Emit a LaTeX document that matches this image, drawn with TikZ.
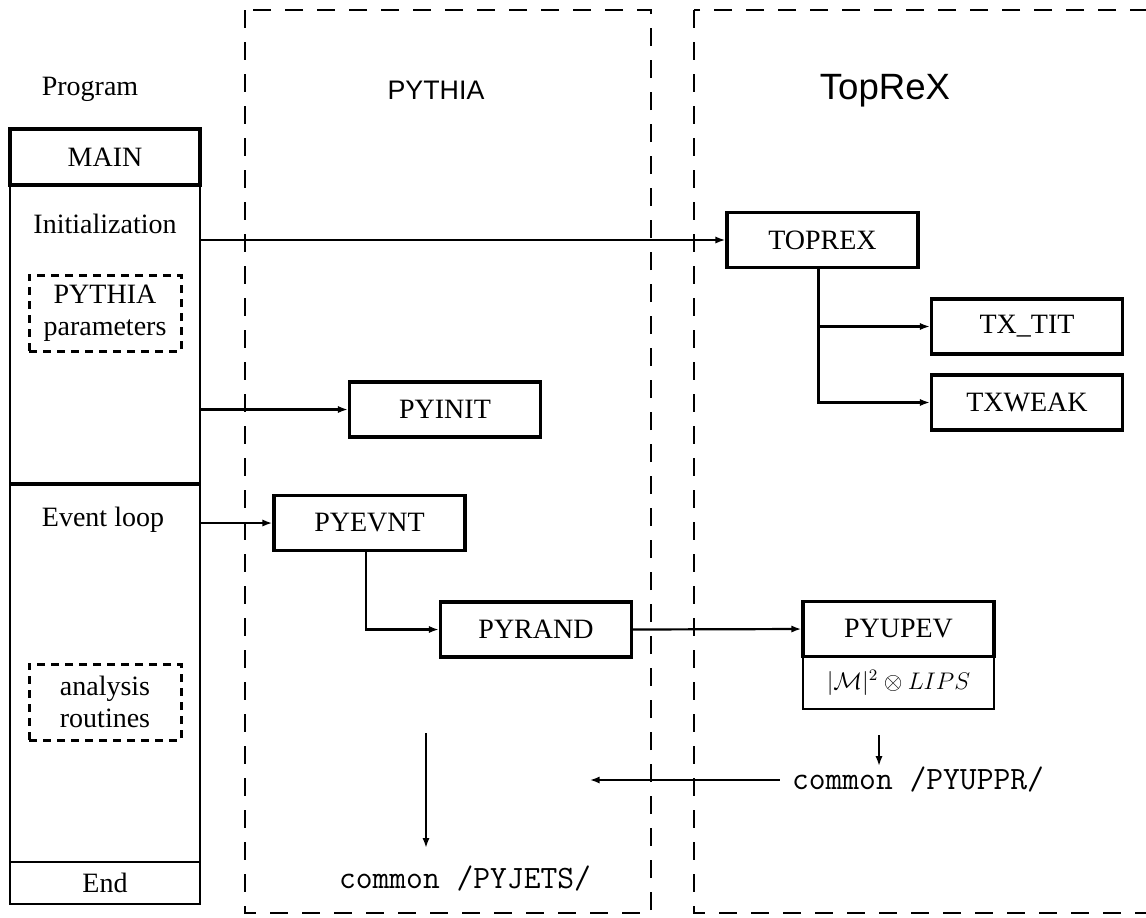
\documentclass[tikz,border=0pt]{standalone}
\usepackage{fontspec}
\setmainfont{Liberation Serif}
\setsansfont{Liberation Sans}
\usetikzlibrary{arrows.meta}

\begin{document}
\begin{tikzpicture}[x=0.5pt, y=-0.5pt,
        font=\fontsize{14}{16}\selectfont,
        arr/.style={-{Latex[length=5pt,width=3.6pt]}, line width=1.1pt},
        routine/.style={draw, line width=1.6pt, minimum width=95.5pt, minimum height=27.5pt, inner sep=0pt},
        frame/.style={draw, line width=1.1pt, inner sep=0pt},
        param/.style={draw, line width=1.5pt, dash pattern=on 4pt off 3pt, minimum width=76pt, minimum height=38pt, align=center, inner sep=0pt},
        panel/.style={line width=1.1pt, dash pattern=on 9pt off 7pt},
        common/.style={font=\ttfamily\fontsize{16.3}{18}\selectfont, inner sep=0pt}]
        \useasboundingbox (0,0) rectangle (1146,917);

        \draw[panel] (245,10) rectangle (651,913);
        \draw[panel] (694,10) rectangle (1170,913);

        \node[font=\sffamily\fontsize{13.4}{16}\selectfont] (pythialab) at (436,90) {PYTHIA};
        \node[font=\sffamily\fontsize{18.3}{20}\selectfont] (toprexlab) at (885,91) {TopReX};

        \node (prog) at (90,89) {Program};
        \node[frame, minimum width=95pt, minimum height=359.5pt] (prg) at (105,544.5) {};
        \node[frame, line width=1.6pt, minimum width=95pt, minimum height=28pt] (main) at (105,157) {MAIN};
        \node[frame, minimum width=95pt, minimum height=21pt] (end) at (105,883) {End};
        \draw[line width=1.6pt] (10,484) -- (200,484);

        \node (init) at (105,224) {Initialization};
        \node[param] (ppar) at (105,313) {PYTHIA\\parameters};
        \node (evloop) at (103,520) {Event loop};
        \node[param] (ana) at (105,702) {analysis\\routines};

        \node[routine] (toprex) at (822.5,240) {TOPREX};
        \node[routine] (txtit) at (1027,326.5) {TX\_TIT};
        \node[routine] (txweak) at (1027,402.5) {TXWEAK};
        \node[routine] (pyinit) at (445,409.5) {PYINIT};
        \node[routine] (pyevnt) at (369.5,523) {PYEVNT};
        \node[routine] (pyrand) at (536,629.5) {PYRAND};
        \node[frame, minimum width=95.5pt, minimum height=26.5pt, font=\fontsize{11.5}{14}\selectfont] (lips) at (898.5,682.5) {$|\mathcal{M}|^2\otimes LIPS$};
        \node[routine] (pyupev) at (898.5,629) {PYUPEV};

        \node[common] (pyuppr) at (918,780) {common /PYUPPR/};
        \node[common] (pyjets) at (465,879) {common /PYJETS/};
        \coordinate (jetsfrom) at (426,733);

        \draw[arr] (prg.east |- toprex.west) -- (toprex.west);
        \draw[arr] (prg.east |- pyinit.west) -- (pyinit.west);
        \draw[arr] (prg.east |- pyevnt.west) -- (pyevnt.west);

        \draw[arr] ([xshift=-2pt]toprex.south) |- (txtit.west);
        \draw[arr] ([xshift=-2pt]toprex.south) |- (txweak.west);

        \draw[arr] ([xshift=-1.75pt]pyevnt.south) |- (pyrand.west);
        \draw[arr] (pyrand.east) -- (pyupev.west);

        \draw[arr] ([xshift=-9.75pt,yshift=-12.5pt]lips.south) -- ++(0,31);
        \draw[arr] ([xshift=-6pt]pyuppr.west) -- ++(-190,0);
        \draw[arr] (jetsfrom) -- ++(0,115);
    \end{tikzpicture}
\end{document}
